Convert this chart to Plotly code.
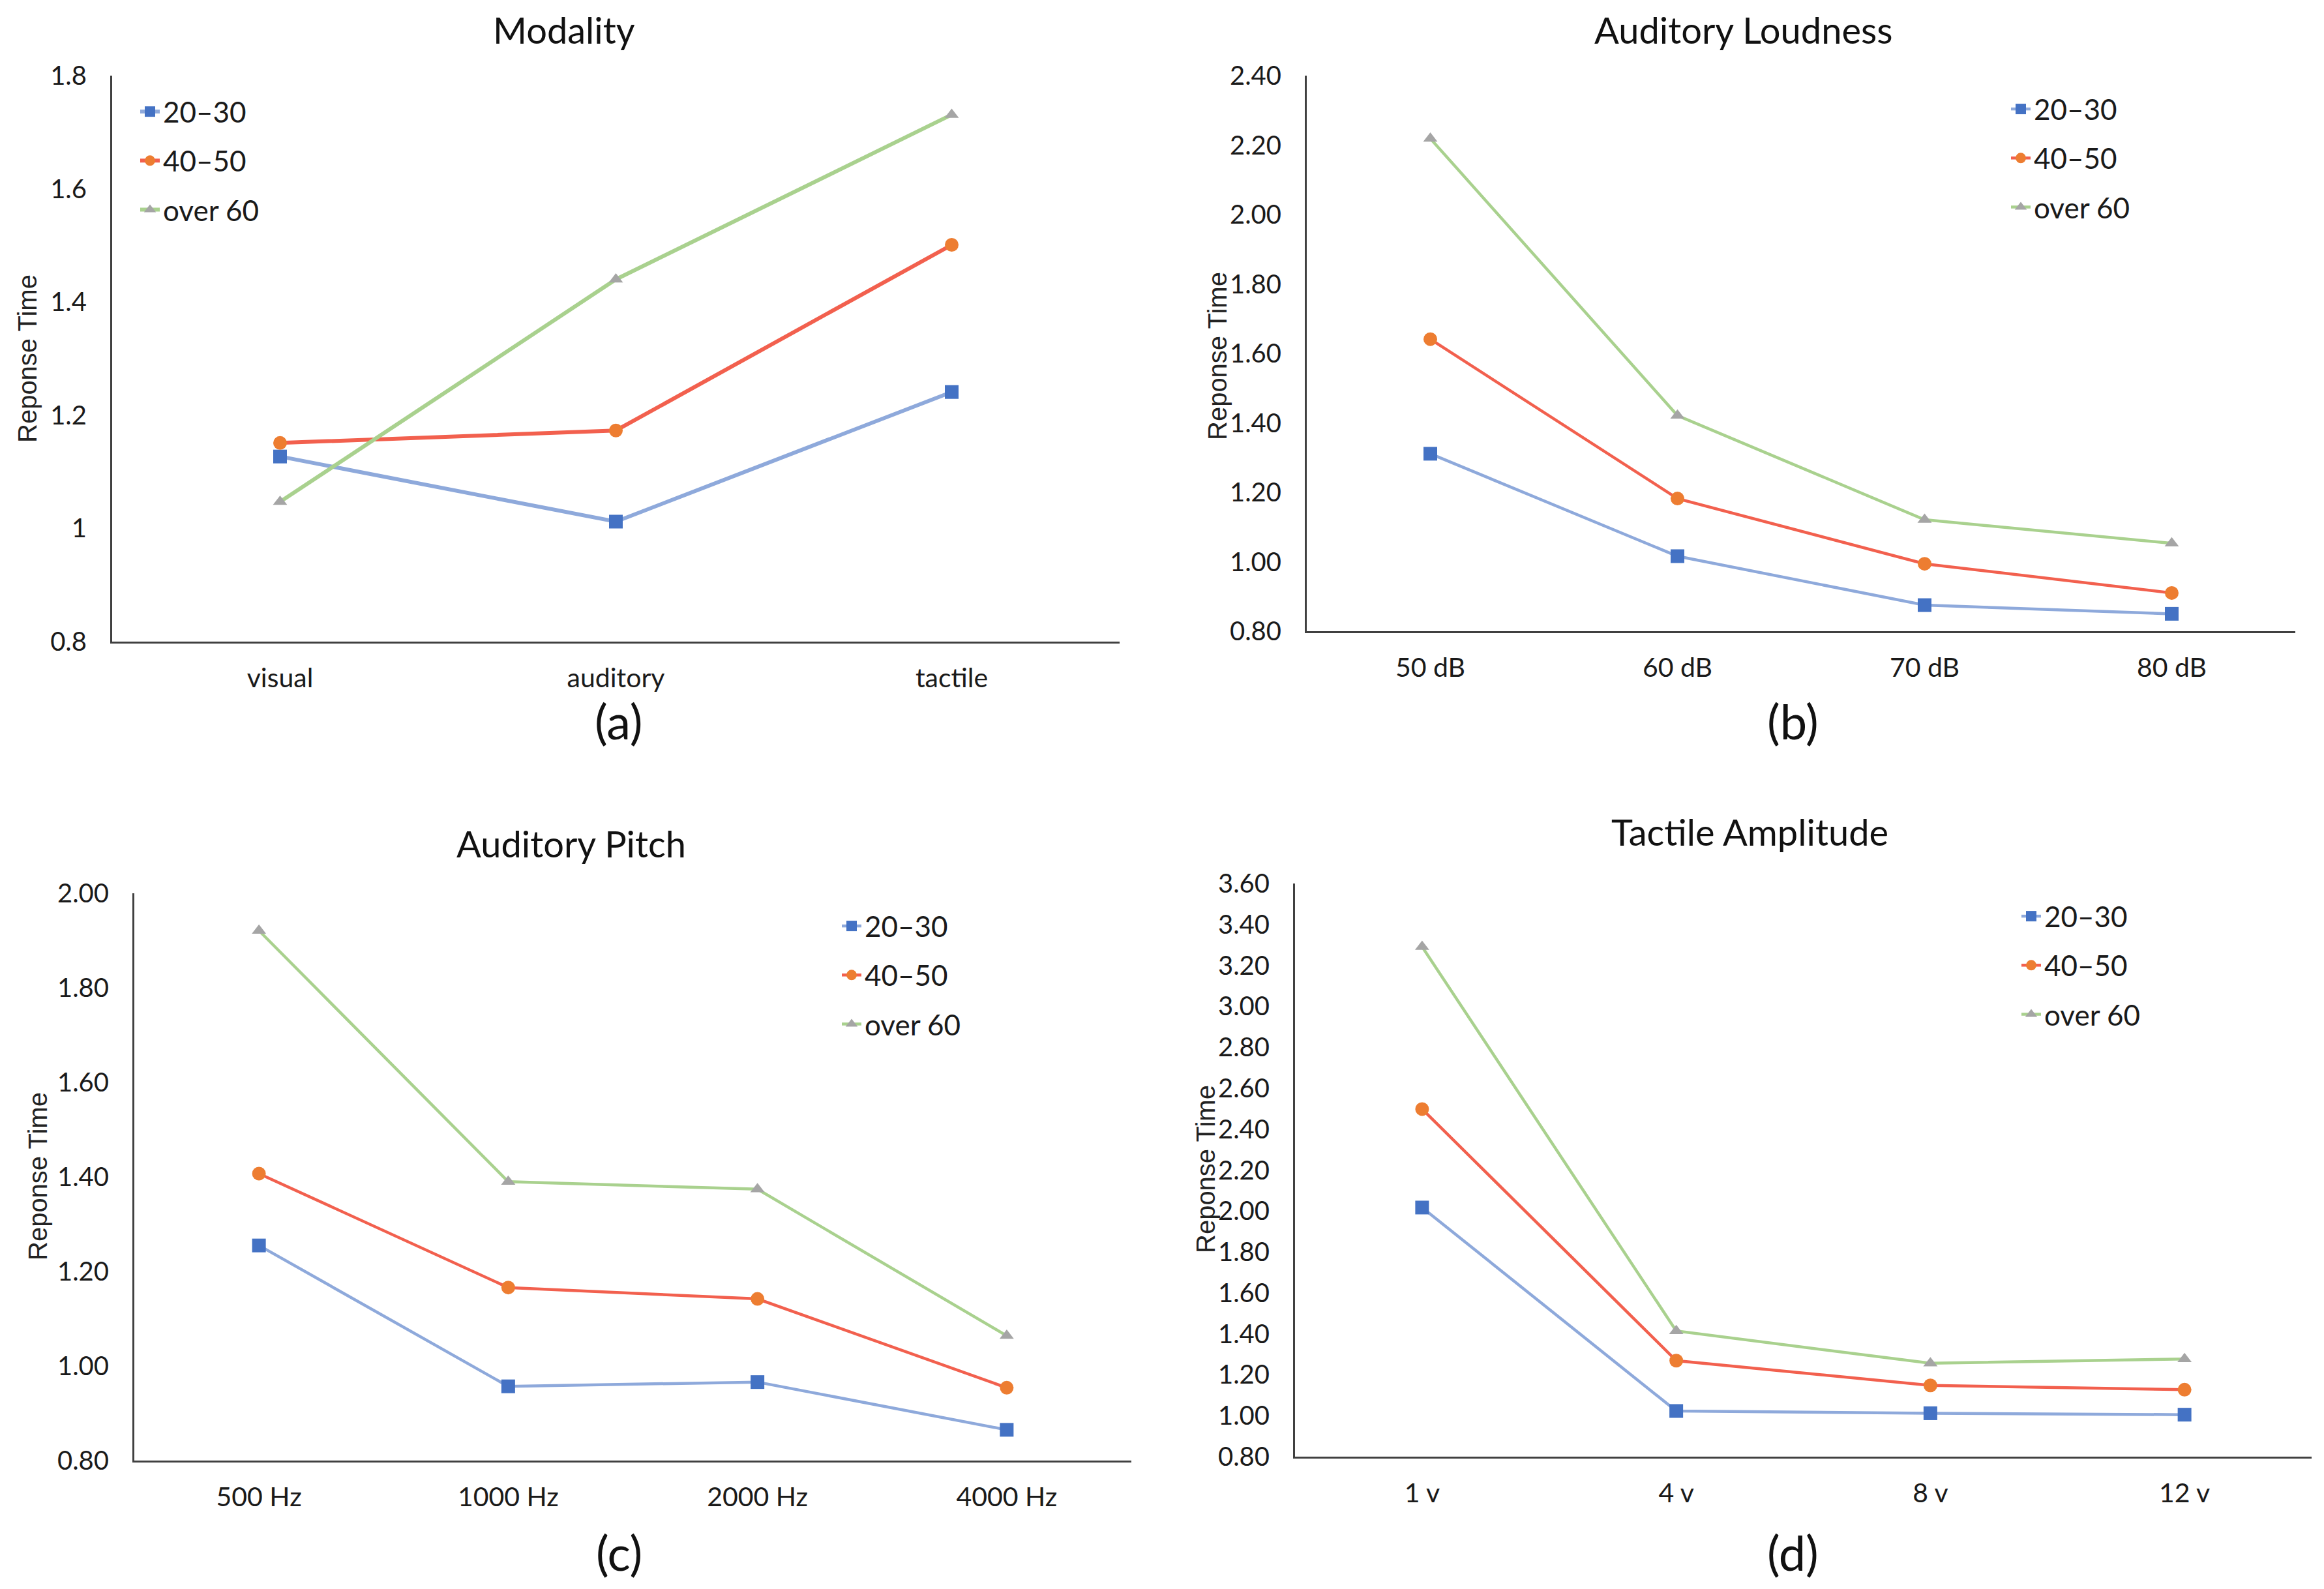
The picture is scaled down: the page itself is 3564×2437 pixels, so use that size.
import plotly.graph_objects as go

# ---------------- data ----------------
series_names = ["20–30", "40–50", "over 60"]

modality_cats = ["visual", "auditory", "tactile"]
modality_2030 = [1.127, 1.012, 1.241]
modality_4050 = [1.151, 1.173, 1.501]
modality_60 = [1.047, 1.440, 1.731]

loud_cats = ["50 dB", "60 dB", "70 dB", "80 dB"]
loud_2030 = [1.311, 1.016, 0.875, 0.850]
loud_4050 = [1.641, 1.182, 0.994, 0.910]
loud_60 = [2.219, 1.421, 1.121, 1.053]

pitch_cats = ["500 Hz", "1000 Hz", "2000 Hz", "4000 Hz"]
pitch_2030 = [1.255, 0.957, 0.966, 0.865]
pitch_4050 = [1.407, 1.166, 1.142, 0.954]
pitch_60 = [1.921, 1.390, 1.374, 1.064]

amp_cats = ["1 v", "4 v", "8 v", "12 v"]
amp_2030 = [2.017, 1.023, 1.012, 1.005]
amp_4050 = [2.498, 1.269, 1.148, 1.127]
amp_60 = [3.291, 1.414, 1.256, 1.277]

titles = ["Modality", "Auditory Loudness", "Auditory Pitch", "Tactile Amplitude"]
panel_labels = ["(a)", "(b)", "(c)", "(d)"]
y_title = "Reponse Time"
y_ranges = [(0.8, 1.8), (0.8, 2.4), (0.8, 2.0), (0.8, 3.6)]
y_formats = ["", ".2f", ".2f", ".2f"]

panels = [
    (modality_cats, [modality_2030, modality_4050, modality_60]),
    (loud_cats, [loud_2030, loud_4050, loud_60]),
    (pitch_cats, [pitch_2030, pitch_4050, pitch_60]),
    (amp_cats, [amp_2030, amp_4050, amp_60]),
]

# ---------------- styling ----------------
W, H = 3564, 2437
HUM = "Lato, Carlito, Calibri, sans-serif"
REG = "Liberation Sans, Arial, sans-serif"

line_colors = ["#8EA9DB", "#F2604E", "#A9D18E"]
marker_colors = ["#4472C4", "#ED7D31", "#A5A5A5"]
symbols = ["square", "circle", "triangle-up"]
marker_sizes = [21, 21, 19]
line_widths = [6, 4.5, 4.5, 4.5]

# plot areas in pixels: (x0, x1, y_top, y_bottom)
boxes = [
    (164, 1709, 108, 976),
    (1996, 3512, 108, 960),
    (198, 1727, 1362, 2232),
    (1978, 3537, 1347, 2226),
]
# title: (center x, top y) in pixels
title_pos = [(857, 2), (2666, 2), (868, 1250), (2675, 1232)]
ytitle_pos = [(34, 542), (1859, 538), (50, 1796), (1841, 1785)]
label_pos = [(941, 1098), (2741, 1098), (941, 2372), (2741, 2372)]
legend_pos = [(202, 128), (3071, 124), (1278, 1377), (3087, 1362)]

fig = go.Figure()

layout = dict(
    width=W, height=H, autosize=False,
    margin=dict(l=0, r=0, t=0, b=0, pad=0, autoexpand=False),
    paper_bgcolor="white", plot_bgcolor="white",
    showlegend=True,
    annotations=[],
)

for i, (cats, vals) in enumerate(panels):
    sfx = "" if i == 0 else str(i + 1)
    leg = "legend" if i == 0 else f"legend{i + 1}"
    for j in range(3):
        fig.add_trace(go.Scatter(
            x=cats, y=vals[j], name=series_names[j],
            mode="lines+markers",
            line=dict(color=line_colors[j], width=line_widths[i]),
            marker=dict(color=marker_colors[j], symbol=symbols[j], size=marker_sizes[j]),
            xaxis="x" + sfx, yaxis="y" + sfx,
            legend=leg, legendgroup=f"g{i}_{j}",
        ))
    x0, x1, yt, yb = boxes[i]
    layout["xaxis" + sfx] = dict(
        domain=[x0 / W, x1 / W], anchor="y" + sfx, type="category",
        range=[-0.5, len(cats) - 0.5], showline=True, linecolor="#404040", linewidth=3,
        showgrid=False, zeroline=False, ticks="", ticklabelstandoff=18,
        tickfont=dict(family=HUM, size=41, color="#1a1a1a"),
    )
    lo, hi = y_ranges[i]
    layout["yaxis" + sfx] = dict(
        domain=[1 - yb / H, 1 - yt / H], anchor="x" + sfx,
        range=[lo, hi], dtick=0.2, tick0=0.8, tickformat=y_formats[i],
        showline=True, linecolor="#404040", linewidth=3,
        showgrid=False, zeroline=False, ticks="", ticklabelstandoff=28,
        tickfont=dict(family=HUM, size=40, color="#1a1a1a"),
    )
    lx, ly = legend_pos[i]
    layout[leg] = dict(
        x=lx / W, y=1 - ly / H, xanchor="left", yanchor="top",
        bgcolor="rgba(0,0,0,0)", font=dict(family=HUM, size=44, color="#1a1a1a"),
        tracegroupgap=15, itemwidth=30, traceorder="grouped",
    )
    tx, ty = title_pos[i]
    layout["annotations"].append(dict(
        text=titles[i], x=tx / W, y=1 - ty / H, xref="paper", yref="paper",
        xanchor="center", yanchor="top", showarrow=False,
        font=dict(family=HUM, size=56, color="#111111"),
    ))
    yx, yy = ytitle_pos[i]
    layout["annotations"].append(dict(
        text=y_title, x=yx / W, y=1 - yy / H, xref="paper", yref="paper",
        xanchor="center", yanchor="middle", showarrow=False, textangle=-90,
        font=dict(family=REG, size=40, color="#222222"),
    ))
    px, py = label_pos[i]
    layout["annotations"].append(dict(
        text=panel_labels[i], x=px / W, y=1 - py / H, xref="paper", yref="paper",
        xanchor="center", yanchor="middle", showarrow=False,
        font=dict(family=HUM, size=74, color="#111111"),
    ))

fig.update_layout(**layout)
fig.write_html("out.html")
